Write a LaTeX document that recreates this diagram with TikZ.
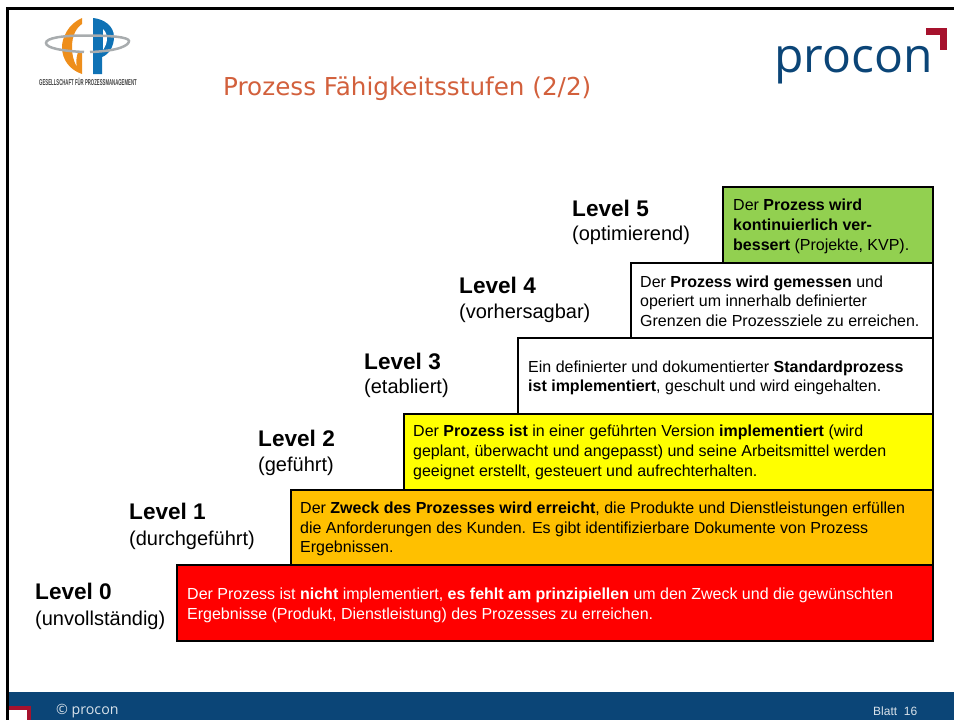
\documentclass[tikz,border=0pt]{standalone}
\usepackage{fontspec}
\setmainfont{Liberation Sans}
\newfontfamily\titlefont{DejaVu Sans}
\newfontfamily\logofont{Open Sans}
\definecolor{procblue}{HTML}{0B4577}
\definecolor{procred}{HTML}{A6122D}
\definecolor{gpblue}{HTML}{0F72B5}
\definecolor{gporange}{HTML}{EE8E1B}
\definecolor{gpgrey}{HTML}{A8ACAE}
\definecolor{titlered}{HTML}{D2603C}
\definecolor{lvlred}{HTML}{FF0000}
\definecolor{lvlorange}{HTML}{FFC000}
\definecolor{lvlyellow}{HTML}{FFFF00}
\definecolor{lvlgreen}{HTML}{92D050}
\begin{document}
\begin{tikzpicture}[
    x=1pt, y=-1pt,
    stepbox/.style={draw=black, line width=1.5pt, rectangle, anchor=north west, inner sep=0pt, text width=#1},
    boxtext/.style={font=\fontsize{16}{19.7}\selectfont, align=left, anchor=west, inner sep=0pt},
    lvlname/.style={font=\fontsize{22.6}{26}\selectfont\bfseries, anchor=west, inner sep=0pt},
    lvlsub/.style={font=\fontsize{20}{24}\selectfont, anchor=west, inner sep=0pt}
]
\useasboundingbox (0,0) rectangle (954,720);

% Footer
\fill[procblue] (7,692) rectangle (954,720);
\draw[procred, line width=4pt] (9,708) -- (29,708) -- (29,720);
\fill[white] (9,710) rectangle (27,720);
\node[font=\logofont\fontsize{14.2}{16}\selectfont, text=white!85!procblue, anchor=west, inner sep=0pt] (copy) at (56,711) {© procon};
\node[font=\fontsize{12}{14}\selectfont, text=white!85!procblue, anchor=west, inner sep=0pt] (sheet) at (873,711) {Blatt\ \ 16};

% Frame
\draw[black, line width=3pt] (954,8) -- (7,8) -- (7,720);

% Logo left
\fill[gporange] (82,18) .. controls (68,24) and (62,38) .. (62,47) .. controls (62,60) and (70,70) .. (82,74) -- (82,52) -- (78,52) .. controls (76,58) and (76,63) .. (77,67) .. controls (73,60) and (72,54) .. (72,47) .. controls (72,36) and (76,28) .. (82,24) -- cycle;
\fill[gpblue] (93,18) -- (93,74) -- (102,74) -- (102,57) .. controls (110,54) and (114,45) .. (114,37) .. controls (114,26) and (104,19) .. (93,18) -- cycle;
\fill[white] (103,29) .. controls (106,32) and (107,35) .. (107,39) .. controls (107,43) and (105,47) .. (103,50) -- cycle;
\draw[gpgrey, line width=2.5pt] (90,52) .. controls (120,51) and (129,45) .. (129,41) .. controls (129,37) and (110,35.5) .. (86,35.5) .. controls (62,35.5) and (46,38) .. (46,43) .. controls (46,48) and (62,51) .. (84,52);
\node[font=\fontsize{8.5}{9}\selectfont\bfseries, text=black!75, inner sep=0pt] (gpname) at (88,82) {\scalebox{0.505}[1]{GESELLSCHAFT FÜR PROZESSMANAGEMENT}};

% Logo right
\node[font=\logofont\fontsize{48}{55}\selectfont, text=procblue, anchor=base west, inner sep=0pt] (brand) at (774,72) {procon};
\draw[procred, line width=7pt] (926,31.5) -- (943.5,31.5) -- (943.5,50);

% Title
\node[font=\titlefont\fontsize{24.65}{29}\selectfont, text=titlered, anchor=base west, inner sep=0pt] (title) at (223,95) {Prozess Fähigkeitsstufen (2/2)};

% Level boxes
\node[stepbox=756pt, fill=lvlred, minimum height=76pt] (box0) at (176,564) {};
\node[stepbox=642pt, fill=lvlorange, minimum height=75pt] (box1) at (290,489) {};
\node[stepbox=529pt, fill=lvlyellow, minimum height=76pt] (box2) at (403,413) {};
\node[stepbox=415pt, fill=white, minimum height=76pt] (box3) at (517,337) {};
\node[stepbox=302pt, fill=white, minimum height=75pt] (box4) at (630,262) {};
\node[stepbox=210pt, fill=lvlgreen, minimum height=76pt] (box5) at (722,186) {};

% Box texts
\node[boxtext, text=white] (txt0) at (187,605.5) {Der Prozess ist \textbf{nicht} implementiert, \textbf{es fehlt am prinzipiellen} um den Zweck und die gewünschten\\Ergebnisse (Produkt, Dienstleistung) des Prozesses zu erreichen.};
\node[boxtext] (txt1) at (300,529) {Der \textbf{Zweck des Prozesses wird erreicht}, die Produkte und Dienstleistungen erfüllen\\die Anforderungen des Kunden. Es gibt identifizierbare Dokumente von Prozess\\Ergebnissen.};
\node[boxtext] (txt2) at (413,452.5) {Der \textbf{Prozess ist} in einer geführten Version \textbf{implementiert} (wird\\geplant, überwacht und angepasst) und seine Arbeitsmittel werden\\geeignet erstellt, gesteuert und aufrechterhalten.};
\node[boxtext] (txt3) at (528,378) {Ein definierter und dokumentierter \textbf{Standardprozess}\\\textbf{ist implementiert}, geschult und wird eingehalten.};
\node[boxtext] (txt4) at (640,301) {Der \textbf{Prozess wird gemessen} und\\operiert um innerhalb definierter\\Grenzen die Prozessziele zu erreichen.};
\node[boxtext] (txt5) at (733,226.5) {Der \textbf{Prozess wird}\\\textbf{kontinuierlich ver-}\\\textbf{bessert} (Projekte, KVP).};

% Level labels
\node[lvlname] (lvl0) at (35,591) {Level 0};
\node[lvlsub] (sub0) at (35,620) {(unvollständig)};
\node[lvlname] (lvl1) at (129,511) {Level 1};
\node[lvlsub] (sub1) at (129,540) {(durchgeführt)};
\node[lvlname] (lvl2) at (258,438) {Level 2};
\node[lvlsub] (sub2) at (258,466) {(geführt)};
\node[lvlname] (lvl3) at (364,361) {Level 3};
\node[lvlsub] (sub3) at (364,388) {(etabliert)};
\node[lvlname] (lvl4) at (459,285) {Level 4};
\node[lvlsub] (sub4) at (459,313) {(vorhersagbar)};
\node[lvlname] (lvl5) at (572,208) {Level 5};
\node[lvlsub] (sub5) at (572,235) {(optimierend)};

\end{tikzpicture}
\end{document}
